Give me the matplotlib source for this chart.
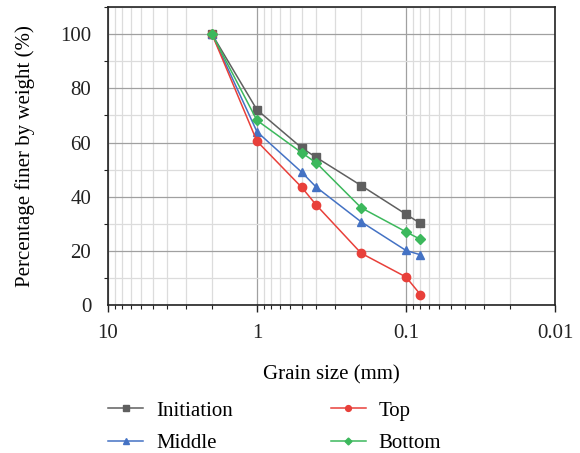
import numpy as np
import matplotlib.pyplot as plt
from matplotlib.ticker import LogLocator, NullFormatter, MultipleLocator, FixedLocator, FixedFormatter

plt.rcParams['font.family'] = ['Liberation Serif', 'DejaVu Serif']

grain_size = [2, 1, 0.5, 0.4, 0.2, 0.1, 0.08]
initiation = [100, 72.1, 58.0, 54.5, 44.1, 33.5, 30.1]
middle = [100, 64.0, 49.0, 43.5, 30.7, 20.1, 18.5]
top = [100, 60.5, 43.4, 36.9, 19.1, 10.3, 3.8]
bottom = [100, 68.2, 56.2, 52.5, 35.9, 27.0, 24.2]

fs = 15

fig = plt.figure(figsize=(5.8, 4.53), dpi=100)
ax = fig.add_axes([0.186, 0.327, 0.771, 0.657])

ax.plot(grain_size, initiation, color='#5f5f5f', marker='s', markersize=5.5, lw=1.1, label='Initiation')
ax.plot(grain_size, middle, color='#4472c4', marker='^', markersize=6, lw=1.1, label='Middle')
ax.plot(grain_size, top, color='#e8403a', marker='o', markersize=6, lw=1.1, label='Top')
ax.plot(grain_size, bottom, color='#3cb85c', marker='D', markersize=5, lw=1.1, label='Bottom')

ax.set_xscale('log')
ax.set_xlim(10, 0.01)
ax.set_ylim(0, 110)

ax.xaxis.set_major_locator(FixedLocator([10, 1, 0.1, 0.01]))
ax.xaxis.set_major_formatter(FixedFormatter(['10', '1', '0.1', '0.01']))
ax.xaxis.set_minor_locator(LogLocator(base=10, subs=np.arange(2, 10), numticks=20))
ax.xaxis.set_minor_formatter(NullFormatter())
ax.yaxis.set_major_locator(MultipleLocator(20))
ax.yaxis.set_minor_locator(MultipleLocator(10))

ax.grid(which='major', color='#a0a0a0', lw=0.9)
ax.grid(which='minor', color='#dcdcdc', lw=0.9)
ax.set_axisbelow(True)

ax.tick_params(which='both', direction='out', labelsize=fs, colors='#222222')
ax.tick_params(axis='x', which='major', length=5, width=1, pad=9)
ax.tick_params(axis='x', which='minor', length=3, width=0.8)
ax.tick_params(axis='y', which='major', length=0, pad=12)
ax.tick_params(axis='y', which='minor', length=3, width=0.8)

for s in ax.spines.values():
    s.set_linewidth(1.2)
    s.set_color('#222222')

ax.set_xlabel('Grain size (mm)', fontsize=fs, labelpad=16)
ax.set_ylabel('Percentage finer by weight (%)', fontsize=fs, labelpad=18)

leg = fig.legend(loc='upper left', bbox_to_anchor=(108 / 580, 1 - 401 / 453), ncol=2, frameon=False,
                 fontsize=fs, handlelength=1.7, handletextpad=0.6, columnspacing=4.7,
                 labelspacing=0.63, borderpad=0, borderaxespad=0, markerscale=0.7)

fig.savefig('out.png', dpi=100)
